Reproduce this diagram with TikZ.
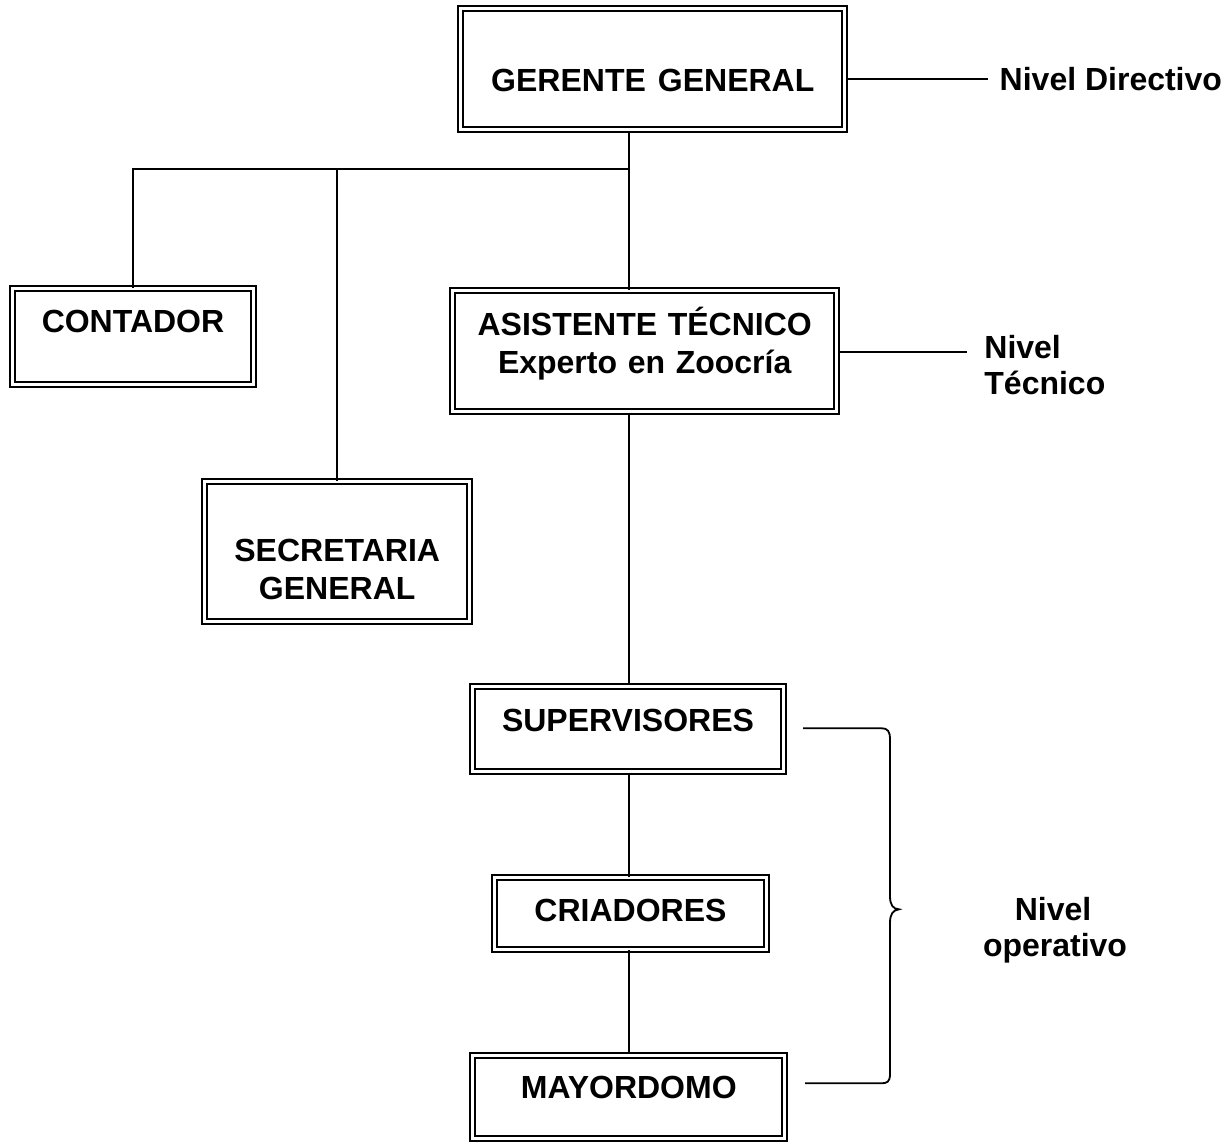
\documentclass[tikz,border=0pt]{standalone}
\usepackage{fontspec}
\setmainfont{Liberation Sans}
\begin{document}
\begin{tikzpicture}[
  x=0.5pt, y=-0.5pt,
  caja/.style={draw=black, double, double distance=1.5pt, line width=1pt, inner sep=0pt, align=center, font=\fontsize{16}{19}\selectfont\bfseries},
  linea/.style={line width=0.9pt, draw=black},
  nivel/.style={inner sep=0pt, font=\fontsize{16}{18}\selectfont\bfseries}
]
  \useasboundingbox (0,0) rectangle (1231,1142);

  % Cargos
  \node[caja, text width=192pt, text height=41.6pt, text depth=19.05pt] (gg) at (652.8,69.15) {GERENTE\hspace{6pt}GENERAL};
  \node[caja, text width=120.2pt, text height=22.1pt, text depth=25.9pt] (cont) at (133,336.5) {CONTADOR};
  \node[caja, text width=191.85pt, text height=22.1pt, text depth=38.25pt] (ast) at (644.7,351.15) {ASISTENTE TÉCNICO\\Experto en Zoocría};
  \node[caja, text width=132.65pt, text height=40pt, text depth=29.9pt] (sec) at (337.2,551.65) {SECRETARIA\\GENERAL};
  \node[caja, text width=155.2pt, text height=22.75pt, text depth=19.9pt] (sup) at (628,728.85) {SUPERVISORES};
  \node[caja, text width=136pt, text height=22.1pt, text depth=13.75pt] (cri) at (630.5,913.35) {CRIADORES};
  \node[caja, text width=156pt, text height=21.55pt, text depth=20.1pt] (may) at (628.8,1096.85) {MAYORDOMO};

  % Niveles
  \node[nivel, anchor=base west] (dir) at (999.3,90) {Nivel Directivo};
  \node[nivel, text width=70pt, align=left, anchor=base west] (tec) at (984,358.3) {Nivel\\Técnico};
  \node[nivel, text width=70pt, align=center, anchor=base] (ope) at (1053,920) {Nivel\\operativo};

  \coordinate (eje) at (629.3,0);
  \coordinate (rama) at (0,169.3);
  \coordinate (fd) at (988.3,79);
  \coordinate (ft) at (967.3,351.7);
  \coordinate (bs) at (803,728.3);
  \coordinate (bi) at (805,1083.3);

  % Lineas
  \draw[linea] (gg.south -| eje) -- (ast.north -| eje);
  \draw[linea] (rama -| eje) -- (rama -| cont.north) -- (cont.north);
  \draw[linea] (rama -| sec.north) -- (sec.north);
  \draw[linea] (ast.south -| eje) -- (sup.north -| eje);
  \draw[linea] (sup.south -| eje) -- (cri.north -| eje);
  \draw[linea] (cri.south -| eje) -- (may.north -| eje);
  \draw[linea] (gg.east |- fd) -- (fd);
  \draw[linea] (ast.east |- ft) -- (ft);

  % Llave
  \draw[linea] (bs) -- (881,728.3) .. controls (888,728.3) and (890,731) .. (890,740) -- (890,896)
    .. controls (890,905) and (893,909) .. (899,909.3) .. controls (893,910) and (890,914) .. (890,923)
    -- (890,1074) .. controls (890,1082) and (887,1083.3) .. (881,1083.3) -- (bi);
\end{tikzpicture}
\end{document}
